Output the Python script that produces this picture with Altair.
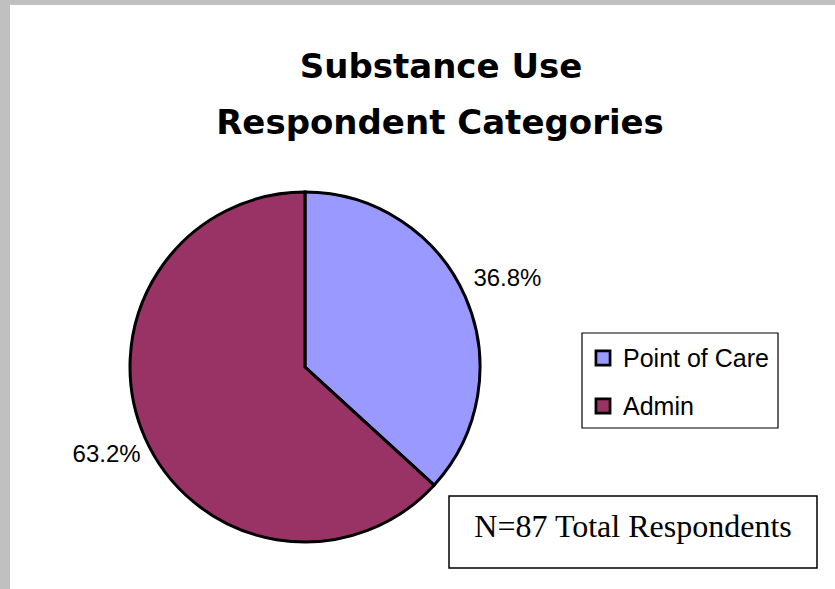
import altair as alt
import pandas as pd

# ---- data ----
categories = ["Point of Care", "Admin"]
shares = [36.8, 63.2]
colors = ["#9999FF", "#993366"]
title_lines = ["Substance Use", "Respondent Categories"]
note_text = "N=87 Total Respondents"

W, H = 835, 589
CX, CY, R = 305, 367, 175

pie_df = pd.DataFrame({
    "category": categories,
    "share": shares,
    "order": list(range(len(categories))),
})
leg_df = pd.DataFrame({"category": categories})
one = pd.DataFrame({"k": [0]})

color_scale = alt.Scale(domain=categories, range=colors)
ypos_scale = alt.Scale(domain=categories, range=[358, 406], padding=0)

# ---- background frame ----
gray_left = alt.Chart(one).mark_rect(color="#c0c0c0").encode(
    x=alt.value(0), x2=alt.value(10), y=alt.value(0), y2=alt.value(H))
gray_top = alt.Chart(one).mark_rect(color="#c0c0c0").encode(
    x=alt.value(0), x2=alt.value(W), y=alt.value(0), y2=alt.value(5))

# ---- pie ----
pie = alt.Chart(pie_df).mark_arc(
    outerRadius=R, stroke="black", strokeWidth=3
).encode(
    theta=alt.Theta("share:Q", stack=True),
    color=alt.Color("category:N", scale=color_scale, legend=None),
    order=alt.Order("order:Q"),
    x=alt.value(CX), y=alt.value(CY),
)

labels = alt.Chart(pie_df).transform_calculate(
    label="format(datum.share, '.1f') + '%'"
).mark_text(
    radius=219, font="Liberation Sans", fontSize=24,
    align="center", baseline="middle", color="black"
).encode(
    theta=alt.Theta("share:Q", stack=True),
    order=alt.Order("order:Q"),
    text="label:N",
    x=alt.value(CX + 2), y=alt.value(CY),
)

# ---- legend ----
leg_box = alt.Chart(one).mark_rect(
    fill="white", stroke="black", strokeWidth=1.2
).encode(x=alt.value(582), x2=alt.value(778), y=alt.value(333), y2=alt.value(428))

leg_sq = alt.Chart(leg_df).mark_square(
    size=200, stroke="black", strokeWidth=2.7, opacity=1
).encode(
    x=alt.value(603),
    y=alt.Y("category:N", scale=ypos_scale, axis=None),
    color=alt.Color("category:N", scale=color_scale, legend=None),
)

leg_txt = alt.Chart(leg_df).mark_text(
    align="left", baseline="alphabetic", dy=8.5,
    font="Liberation Sans", fontSize=25, color="black"
).encode(
    x=alt.value(623),
    y=alt.Y("category:N", scale=ypos_scale, axis=None),
    text="category:N",
)

# ---- note box ----
note_box = alt.Chart(one).mark_rect(
    fill="white", stroke="black", strokeWidth=1.5
).encode(x=alt.value(449), x2=alt.value(817), y=alt.value(496), y2=alt.value(568))

note = alt.Chart(one).mark_text(
    font="Liberation Serif", fontSize=32, align="center",
    baseline="alphabetic", color="black"
).encode(x=alt.value(633), y=alt.value(537), text=alt.value(note_text))

# ---- title ----
t1 = alt.Chart(one).mark_text(
    font="DejaVu Sans", fontWeight="bold", fontSize=34, align="center",
    baseline="alphabetic", color="black"
).encode(x=alt.value(441), y=alt.value(78), text=alt.value(title_lines[0]))
t2 = alt.Chart(one).mark_text(
    font="DejaVu Sans", fontWeight="bold", fontSize=34, align="center",
    baseline="alphabetic", color="black"
).encode(x=alt.value(440), y=alt.value(134), text=alt.value(title_lines[1]))

chart = alt.layer(
    gray_left, gray_top, pie, labels, leg_box, leg_sq, leg_txt, note_box, note, t1, t2
).properties(
    width=W, height=H, background="white", padding=0,
    autosize=alt.AutoSizeParams(type="none"),
).configure_view(stroke=None)

chart.save("out.html", embed_options={"renderer": "svg", "actions": False})
